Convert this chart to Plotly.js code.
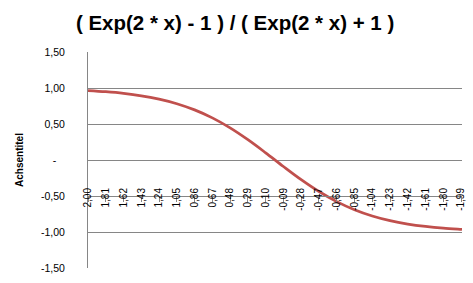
<!DOCTYPE html>
<html>
<head>
<meta charset="utf-8">
<script src="https://cdn.plot.ly/plotly-3.0.1.min.js"></script>
<style>html,body{margin:0;padding:0;background:#fff;}#chart{width:473px;height:283px;}</style>
</head>
<body>
<div id="chart"></div>
<script>
// x values (category labels as numbers) and values
var xValues = [2.00, 1.81, 1.62, 1.43, 1.24, 1.05, 0.86, 0.67, 0.48, 0.29, 0.10,
               -0.09, -0.28, -0.47, -0.66, -0.85, -1.04, -1.23, -1.42, -1.61, -1.80, -1.99, -2.00];
var yValues = [0.965, 0.948, 0.925, 0.892, 0.845, 0.782, 0.696, 0.585, 0.446, 0.282, 0.100,
               -0.090, -0.273, -0.438, -0.578, -0.691, -0.778, -0.843, -0.890, -0.923, -0.947, -0.963, -0.964];
var xTickVals = [2.00, 1.81, 1.62, 1.43, 1.24, 1.05, 0.86, 0.67, 0.48, 0.29, 0.10,
                 -0.09, -0.28, -0.47, -0.66, -0.85, -1.04, -1.23, -1.42, -1.61, -1.80, -1.99];
var xTickText = ['2,00','1,81','1,62','1,43','1,24','1,05','0,86','0,67','0,48','0,29','0,10',
                 '-0,09','-0,28','-0,47','-0,66','-0,85','-1,04','-1,23','-1,42','-1,61','-1,80','-1,99'];
var yTickVals = [1.5, 1.0, 0.5, 0, -0.5, -1.0, -1.5];
var yTickText = ['1,50','1,00','0,50','-\u00a0\u00a0\u00a0','-0,50','-1,00','-1,50'];
var chartTitle = '( Exp(2 * x) - 1 ) / ( Exp(2 * x) + 1 )';
var yTitle = 'Achsentitel';

var trace = {
  x: xValues, y: yValues, type: 'scatter', mode: 'lines',
  line: {color: '#C0504D', width: 2.75, shape: 'spline', smoothing: 1},
  hoverinfo: 'skip'
};

var layout = {
  width: 473, height: 283,
  margin: {l: 88, r: 11, t: 52, b: 15},
  paper_bgcolor: '#ffffff', plot_bgcolor: '#ffffff',
  showlegend: false,
  title: {text: chartTitle, x: 0.497, xanchor: 'center', y: 0.920, yanchor: 'middle',
          font: {family: 'Liberation Sans, Arial, sans-serif', size: 20.5, color: '#000', weight: 'bold'}},
  xaxis: {
    range: [2.00, -2.00], anchor: 'free', position: 1/3,
    tickmode: 'array', tickvals: xTickVals, ticktext: xTickText, tickangle: -90,
    showgrid: false, zeroline: false, showline: true, linecolor: '#868686', linewidth: 1,
    ticks: 'outside', ticklen: 5, tickcolor: '#868686',
    ticklabelstandoff: -18,
    tickfont: {family: 'Liberation Sans, Arial, sans-serif', size: 10, color: '#000'},
    fixedrange: true
  },
  yaxis: {
    range: [-1.5, 1.5],
    tickmode: 'array', tickvals: yTickVals, ticktext: yTickText,
    showgrid: true, gridcolor: '#868686', gridwidth: 1,
    zeroline: false, showline: true, linecolor: '#868686', linewidth: 1,
    ticks: '', ticklabelstandoff: 20,
    tickfont: {family: 'Liberation Sans, Arial, sans-serif', size: 10.5, color: '#000'},
    title: {text: yTitle, standoff: 15, font: {family: 'Liberation Sans, Arial, sans-serif', size: 10, color: '#000', weight: 'bold'}},
    fixedrange: true
  }
};

Plotly.newPlot('chart', [trace], layout, {displayModeBar: false, staticPlot: true});
</script>
</body>
</html>
